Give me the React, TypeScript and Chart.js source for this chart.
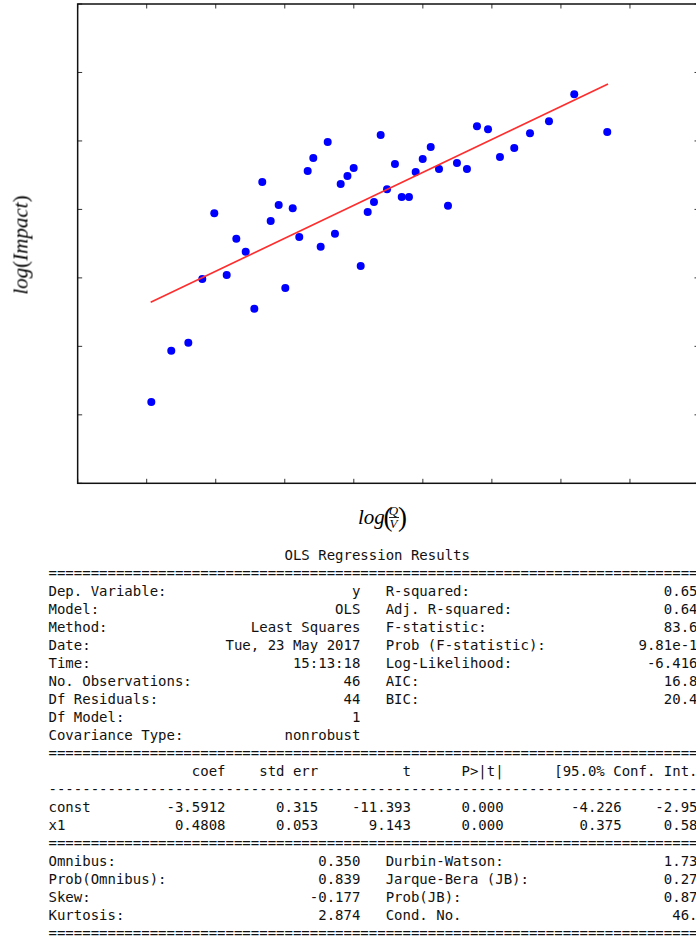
import React, { useEffect, useRef } from "react";
import { Chart, registerables } from "chart.js";

Chart.register(...registerables);

// ---- chart data ----
const xValues = [
  -7.933, -7.644, -7.397, -7.195, -7.021, -6.841, -6.702, -6.566, -6.441, -6.326,
  -6.204, -6.088, -5.992, -5.885, -5.79, -5.668, -5.587, -5.48, -5.378, -5.273,
  -5.19, -5.092, -5.002, -4.9, -4.799, -4.708, -4.611, -4.519, -4.404, -4.306,
  -4.201, -4.104, -4.002, -3.886, -3.766, -3.636, -3.506, -3.361, -3.216, -3.056,
  -2.883, -2.676, -2.448, -2.173, -1.807, -1.329,
];
const yValues = [
  -8.812, -8.064, -7.947, -7.016, -6.055, -6.957, -6.429, -6.618, -7.452, -5.599,
  -6.171, -5.934, -7.147, -5.982, -6.404, -5.439, -5.25, -6.545, -5.017, -6.356,
  -5.628, -5.512, -5.395, -6.826, -6.036, -5.89, -4.915, -5.705, -5.337, -5.817,
  -5.817, -5.453, -5.264, -5.09, -5.41, -5.948, -5.322, -5.41, -4.784, -4.828,
  -5.235, -5.104, -4.886, -4.711, -4.318, -4.871,
];
const fitX = [-7.942, -1.318];
const fitY = [-7.356, -4.168];
const xRange = [-9, 0];
const yRange = [-10, -3];
const tickStep = 1;

// ---- summary table text ----
const tableTitle = "OLS Regression Results";
const modelRows: string[][] = [
  ["Dep. Variable:", "y", "R-squared:", "0.65"],
  ["Model:", "OLS", "Adj. R-squared:", "0.64"],
  ["Method:", "Least Squares", "F-statistic:", "83.6"],
  ["Date:", "Tue, 23 May 2017", "Prob (F-statistic):", "9.81e-1"],
  ["Time:", "15:13:18", "Log-Likelihood:", "-6.416"],
  ["No. Observations:", "46", "AIC:", "16.8"],
  ["Df Residuals:", "44", "BIC:", "20.4"],
  ["Df Model:", "1", "", ""],
  ["Covariance Type:", "nonrobust", "", ""],
];
const coefHeader = ["", "coef", "std err", "t", "P>|t|", "[95.0% Conf. Int."];
const coefRows: string[][] = [
  ["const", "-3.5912", "0.315", "-11.393", "0.000", "-4.226", "-2.95"],
  ["x1", "0.4808", "0.053", "9.143", "0.000", "0.375", "0.58"],
];
const diagRows: string[][] = [
  ["Omnibus:", "0.350", "Durbin-Watson:", "1.73"],
  ["Prob(Omnibus):", "0.839", "Jarque-Bera (JB):", "0.27"],
  ["Skew:", "-0.177", "Prob(JB):", "0.87"],
  ["Kurtosis:", "2.874", "Cond. No.", "46."],
];

const W = 77;
const pairRow = (r: string[]) => {
  const left = r[0] + r[1].padStart(37 - r[0].length);
  if (!r[2]) return left;
  return left + "   " + r[2] + r[3].padStart(37 - r[2].length);
};
const coefRow = (r: string[]) =>
  r[0].padEnd(10) +
  r[1].padStart(11) +
  r[2].padStart(11) +
  r[3].padStart(11) +
  r[4].padStart(11) +
  r[5].padStart(14) +
  r[6].padStart(9);
const headerRow = (h: string[]) =>
  h[0].padEnd(10) +
  h[1].padStart(11) +
  h[2].padStart(11) +
  h[3].padStart(11) +
  h[4].padStart(11) +
  h[5].padStart(23);

const tableLines: string[] = [
  " ".repeat(28) + tableTitle,
  "=".repeat(W),
  ...modelRows.map(pairRow),
  "=".repeat(W),
  headerRow(coefHeader),
  "-".repeat(W),
  ...coefRows.map(coefRow),
  "=".repeat(W),
  ...diagRows.map(pairRow),
  "=".repeat(W),
];

const CANVAS_W = 720;
const CANVAS_H = 490;

const framePlugin = {
  id: "mplFrame",
  afterDatasetsDraw(chart: any) {
    const { ctx, chartArea: a, scales } = chart;
    const tl = 4.5;
    ctx.save();
    ctx.strokeStyle = "#333";
    ctx.lineWidth = 1;
    ctx.beginPath();
    scales.x.ticks.forEach((t: any) => {
      const p = scales.x.getPixelForValue(t.value);
      ctx.moveTo(p, a.bottom);
      ctx.lineTo(p, a.bottom - tl);
      ctx.moveTo(p, a.top);
      ctx.lineTo(p, a.top + tl);
    });
    scales.y.ticks.forEach((t: any) => {
      const p = scales.y.getPixelForValue(t.value);
      ctx.moveTo(a.left, p);
      ctx.lineTo(a.left + tl, p);
      ctx.moveTo(a.right, p);
      ctx.lineTo(a.right - tl, p);
    });
    ctx.stroke();
    ctx.strokeStyle = "#111";
    ctx.lineWidth = 1.5;
    ctx.strokeRect(a.left, a.top, a.right - a.left, a.bottom - a.top);
    ctx.restore();
  },
};

export default function App() {
  const ref = useRef<HTMLCanvasElement | null>(null);

  useEffect(() => {
    const canvas = ref.current;
    if (!canvas) return;
    const points = xValues.map((x, i) => ({ x, y: yValues[i] }));
    const fit = fitX.map((x, i) => ({ x, y: fitY[i] }));
    const chart = new Chart(canvas, {
      type: "scatter",
      data: {
        datasets: [
          {
            type: "line",
            data: fit,
            borderColor: "rgb(255,45,45)",
            borderWidth: 1.6,
            pointRadius: 0,
            fill: false,
            order: 0,
          } as any,
          {
            type: "scatter",
            data: points,
            backgroundColor: "#0000ff",
            borderColor: "#0000ff",
            borderWidth: 0,
            pointRadius: 4,
            order: 1,
          } as any,
        ],
      },
      options: {
        animation: false,
        responsive: false,
        devicePixelRatio: 1,
        layout: {
          padding: { left: 77.66, top: 2.5, right: CANVAS_W - 699, bottom: CANVAS_H - 483.3 },
        },
        plugins: {
          legend: { display: false },
          tooltip: { enabled: false },
        },
        scales: {
          x: {
            type: "linear",
            min: xRange[0],
            max: xRange[1],
            ticks: { display: false, stepSize: tickStep },
            grid: { display: false, drawTicks: false },
            border: { display: false },
            afterFit: (s: any) => {
              s.height = 0;
            },
          },
          y: {
            type: "linear",
            min: yRange[0],
            max: yRange[1],
            ticks: { display: false, stepSize: tickStep },
            grid: { display: false, drawTicks: false },
            border: { display: false },
            afterFit: (s: any) => {
              s.width = 0;
            },
          },
        },
      } as any,
      plugins: [framePlugin],
    });
    return () => chart.destroy();
  }, []);

  const serif = "'Liberation Serif', 'Times New Roman', serif";

  return (
    <div
      style={{
        position: "absolute",
        left: 0,
        top: 0,
        width: 696,
        height: 938,
        overflow: "hidden",
        background: "#fff",
      }}
    >
      <canvas
        ref={ref}
        width={CANVAS_W}
        height={CANVAS_H}
        style={{ position: "absolute", left: 0, top: 0, width: CANVAS_W, height: CANVAS_H }}
      />
      {/* y axis label */}
      <div
        style={{
          position: "absolute",
          left: 20.5,
          top: 245,
          transform: "translate(-50%, -50%) rotate(-90deg)",
          fontFamily: serif,
          fontSize: 21,
          lineHeight: "21px",
          whiteSpace: "nowrap",
          color: "#000",
        }}
      >
        <i>log</i>(<i>Impact</i>)
      </div>
      {/* x axis label: log(Q/V) */}
      <div style={{ position: "absolute", left: 0, top: 0, fontFamily: serif, color: "#000" }}>
        <span
          style={{ position: "absolute", left: 358, top: 507.4, fontSize: 21, lineHeight: "21px", fontStyle: "italic", whiteSpace: "nowrap" }}
        >
          log
        </span>
        <span style={{ position: "absolute", left: 383.5, top: 503, fontSize: 27, lineHeight: "28px" }}>(</span>
        <span
          style={{ position: "absolute", left: 387.5, width: 12, textAlign: "center", top: 504.4, fontSize: 13, lineHeight: "13px", fontStyle: "italic" }}
        >
          Q
        </span>
        <span style={{ position: "absolute", left: 389, top: 517.2, width: 9.5, height: 0.9, background: "#222" }} />
        <span
          style={{ position: "absolute", left: 387.5, width: 12, textAlign: "center", top: 517.1, fontSize: 13, lineHeight: "13px", fontStyle: "italic" }}
        >
          V
        </span>
        <span style={{ position: "absolute", left: 398, top: 503, fontSize: 27, lineHeight: "28px" }}>)</span>
      </div>
      {/* regression summary */}
      <pre
        style={{
          position: "absolute",
          left: 48.5,
          top: 546,
          margin: 0,
          fontFamily: "'DejaVu Sans Mono', monospace",
          fontSize: 14,
          lineHeight: "18px",
          color: "#111",
          whiteSpace: "pre",
        }}
      >
        {tableLines.join("\n")}
      </pre>
    </div>
  );
}
